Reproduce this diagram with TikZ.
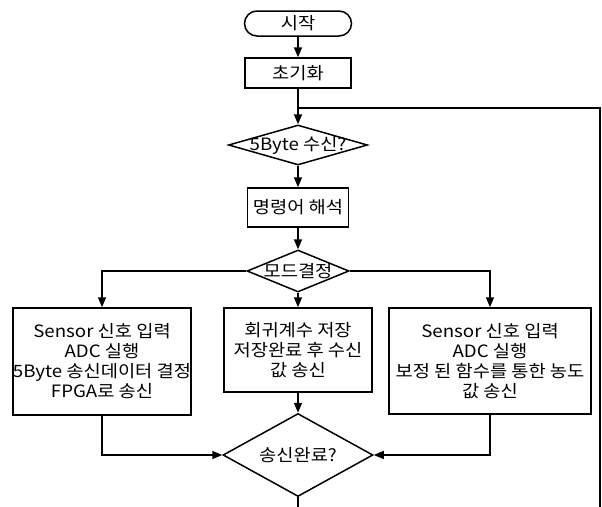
\documentclass[tikz,border=0pt]{standalone}
\usepackage{fontspec}
\setmainfont[FakeStretch=1.1]{Noto Sans CJK KR}
\usetikzlibrary{arrows.meta,shapes.geometric}
\begin{document}
\begin{tikzpicture}[x=1pt,y=-1pt,
    line/.style={line width=1.5pt,black},
    arrow/.style={line, -{Triangle[length=10pt,width=8pt]}},
    box/.style={draw,line width=1.5pt,align=center,inner sep=0pt,
      font=\fontsize{17}{20}\selectfont},
    terminal/.style={box,rounded corners=12.5pt},
    decision/.style={draw,diamond,line width=1.5pt,inner sep=0pt,
      label={[font=\fontsize{17}{20}\selectfont]center:#1}}]
    \useasboundingbox (0,0) rectangle (602,506);
    \node[terminal,minimum width=107pt,minimum height=25pt] (start) at (298,23.5) {시작};
    \node[box,minimum width=106pt,minimum height=30pt] (init) at (298,73) {초기화};
    \node[decision={5Byte 수신?},minimum width=139pt,minimum height=40pt] (recv) at (298,145) {};
    \node[box,minimum width=101pt,minimum height=39pt] (parse) at (298,207.5) {명령어 해석};
    \node[decision={모드결정},minimum width=102pt,minimum height=42pt] (mode) at (298,271) {};
    \node[box,minimum width=178pt,minimum height=107pt] (left) at (102,361.5)
      {Sensor 신호 입력\\ADC 실행\\5Byte 송신데이터 결정\\FPGA로 송신};
    \node[box,minimum width=148pt,minimum height=84pt] (mid) at (298,350)
      {회귀계수 저장\\저장완료 후 수신\\값 송신};
    \node[box,minimum width=202pt,minimum height=106pt] (right) at (490,361)
      {Sensor 신호 입력\\ADC 실행\\보정 된 함수를 통한 농도\\값 송신};
    \node[decision={송신완료?},minimum width=150pt,minimum height=83pt] (send) at (298,455) {};
    \coordinate (join) at (298,108);
    \coordinate (loop) at (600,108);
    \draw[arrow] (start) -- (init);
    \draw[arrow] (init) -- (recv);
    \draw[arrow] (recv) -- (parse);
    \draw[arrow] (parse) -- (mode);
    \draw[arrow] (mode.west) -| (left.north);
    \draw[arrow] (mode.south) -- (mid.north);
    \draw[arrow] (mode.east) -| (right.north);
    \draw[arrow] (mid.south) -- (send.north);
    \draw[arrow] (left.south) |- (send.west);
    \draw[arrow] (right.south) |- (send.east);
    \draw[line] (send.south) -- ++(0,16) -| (loop) -- (join);
  \end{tikzpicture}
\end{document}
